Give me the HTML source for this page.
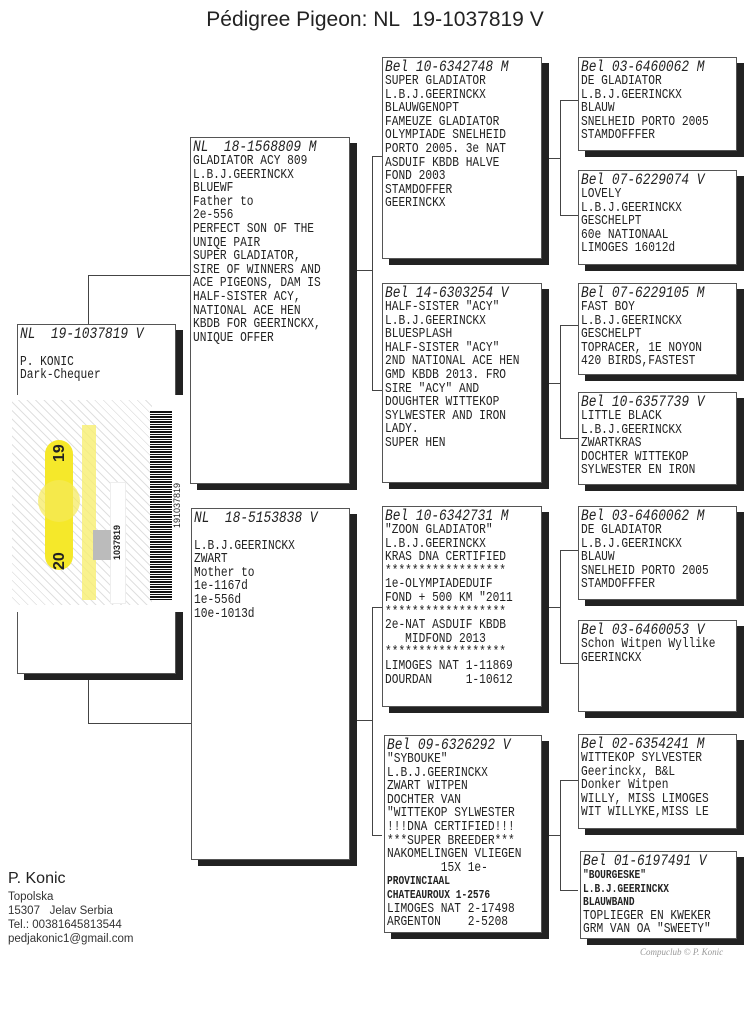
<!DOCTYPE html>
<html><head><meta charset="utf-8"><style>
body{margin:0;width:750px;height:1027px;background:#fff;position:relative;overflow:hidden;font-family:"Liberation Mono",monospace;color:#222}
.b{position:absolute;border:1px solid #555;background:#fff;box-shadow:7px 6px 0 #222;box-sizing:border-box;padding:2px 0 0 2px;overflow:hidden}
.t{display:block;white-space:pre;font-size:13.5px;line-height:13.6px;letter-spacing:0;transform:scaleX(0.83);transform-origin:0 0;width:200px}
.h{font-style:italic;font-size:15.5px;line-height:15px;display:block}
.s{font-size:11.5px;line-height:11px;font-weight:bold}
.l{position:absolute;background:#444}
.v{width:1px}.hz{height:1px}
</style></head><body>
<div style="position:absolute;left:0;width:750px;top:8px;text-align:center;font-family:'Liberation Sans',sans-serif;font-size:21px;color:#222">Pédigree Pigeon: NL&nbsp;&nbsp;19-1037819 V</div>

<div class="l v" style="left:88px;top:275px;height:50px"></div>
<div class="l hz" style="left:88px;top:275px;width:102px"></div>
<div class="l v" style="left:88px;top:675px;height:48px"></div>
<div class="l hz" style="left:88px;top:723px;width:104px"></div>
<div class="l hz" style="left:350px;top:270px;width:22px"></div>
<div class="l v" style="left:372px;top:156px;height:234px"></div>
<div class="l hz" style="left:372px;top:156px;width:10px"></div>
<div class="l hz" style="left:372px;top:390px;width:10px"></div>
<div class="l hz" style="left:350px;top:720px;width:22px"></div>
<div class="l v" style="left:372px;top:607px;height:228px"></div>
<div class="l hz" style="left:372px;top:607px;width:10px"></div>
<div class="l hz" style="left:372px;top:835px;width:10px"></div>
<div class="l hz" style="left:542px;top:158px;width:18px"></div>
<div class="l v" style="left:560px;top:100px;height:115px"></div>
<div class="l hz" style="left:560px;top:100px;width:18px"></div>
<div class="l hz" style="left:560px;top:215px;width:18px"></div>
<div class="l hz" style="left:542px;top:383px;width:18px"></div>
<div class="l v" style="left:560px;top:325px;height:113px"></div>
<div class="l hz" style="left:560px;top:325px;width:18px"></div>
<div class="l hz" style="left:560px;top:438px;width:18px"></div>
<div class="l hz" style="left:542px;top:607px;width:18px"></div>
<div class="l v" style="left:560px;top:550px;height:113px"></div>
<div class="l hz" style="left:560px;top:550px;width:18px"></div>
<div class="l hz" style="left:560px;top:663px;width:18px"></div>
<div class="l hz" style="left:542px;top:835px;width:18px"></div>
<div class="l v" style="left:560px;top:780px;height:110px"></div>
<div class="l hz" style="left:560px;top:780px;width:18px"></div>
<div class="l hz" style="left:560px;top:890px;width:18px"></div>

<div class="b" style="left:17px;top:324px;width:159px;height:350px"><span class="t"><span class="h">NL  19-1037819 V</span>
P. KONIC
Dark-Chequer</span></div>

<div class="b" style="left:190px;top:137px;width:160px;height:347px"><span class="t"><span class="h">NL  18-1568809 M</span>GLADIATOR ACY 809
L.B.J.GEERINCKX
BLUEWF
Father to
2e-556
PERFECT SON OF THE
UNIQE PAIR
SUPER GLADIATOR,
SIRE OF WINNERS AND
ACE PIGEONS, DAM IS
HALF-SISTER ACY,
NATIONAL ACE HEN
KBDB FOR GEERINCKX,
UNIQUE OFFER</span></div>
<div class="b" style="left:191px;top:508px;width:159px;height:352px"><span class="t"><span class="h">NL  18-5153838 V</span>
L.B.J.GEERINCKX
ZWART
Mother to
1e-1167d
1e-556d
10e-1013d</span></div>

<div class="b" style="left:382px;top:57px;width:160px;height:202px"><span class="t"><span class="h">Bel 10-6342748 M</span>SUPER GLADIATOR
L.B.J.GEERINCKX
BLAUWGENOPT
FAMEUZE GLADIATOR
OLYMPIADE SNELHEID
PORTO 2005. 3e NAT
ASDUIF KBDB HALVE
FOND 2003
STAMDOFFER
GEERINCKX</span></div>
<div class="b" style="left:382px;top:283px;width:160px;height:200px"><span class="t"><span class="h">Bel 14-6303254 V</span>HALF-SISTER "ACY"
L.B.J.GEERINCKX
BLUESPLASH
HALF-SISTER "ACY"
2ND NATIONAL ACE HEN
GMD KBDB 2013. FRO
SIRE "ACY" AND
DOUGHTER WITTEKOP
SYLWESTER AND IRON
LADY.
SUPER HEN</span></div>
<div class="b" style="left:382px;top:506px;width:160px;height:201px"><span class="t"><span class="h">Bel 10-6342731 M</span>"ZOON GLADIATOR"
L.B.J.GEERINCKX
KRAS DNA CERTIFIED
******************
1e-OLYMPIADEDUIF
FOND + 500 KM "2011
******************
2e-NAT ASDUIF KBDB
   MIDFOND 2013
******************
LIMOGES NAT 1-11869
DOURDAN     1-10612</span></div>
<div class="b" style="left:384px;top:735px;width:158px;height:198px"><span class="t"><span class="h">Bel 09-6326292 V</span>"SYBOUKE"
L.B.J.GEERINCKX
ZWART WITPEN
DOCHTER VAN
"WITTEKOP SYLWESTER
!!!DNA CERTIFIED!!!
***SUPER BREEDER***
NAKOMELINGEN VLIEGEN
        15X 1e-
<span class="s">PROVINCIAAL
CHATEAUROUX 1-2576</span>
LIMOGES NAT 2-17498
ARGENTON    2-5208</span></div>

<div class="b" style="left:578px;top:57px;width:159px;height:94px"><span class="t"><span class="h">Bel 03-6460062 M</span>DE GLADIATOR
L.B.J.GEERINCKX
BLAUW
SNELHEID PORTO 2005
STAMDOFFFER</span></div>
<div class="b" style="left:578px;top:170px;width:159px;height:95px"><span class="t"><span class="h">Bel 07-6229074 V</span>LOVELY
L.B.J.GEERINCKX
GESCHELPT
60e NATIONAAL
LIMOGES 16012d</span></div>
<div class="b" style="left:578px;top:283px;width:159px;height:92px"><span class="t"><span class="h">Bel 07-6229105 M</span>FAST BOY
L.B.J.GEERINCKX
GESCHELPT
TOPRACER, 1E NOYON
420 BIRDS,FASTEST</span></div>
<div class="b" style="left:578px;top:392px;width:159px;height:93px"><span class="t"><span class="h">Bel 10-6357739 V</span>LITTLE BLACK
L.B.J.GEERINCKX
ZWARTKRAS
DOCHTER WITTEKOP
SYLWESTER EN IRON</span></div>
<div class="b" style="left:578px;top:506px;width:159px;height:94px"><span class="t"><span class="h">Bel 03-6460062 M</span>DE GLADIATOR
L.B.J.GEERINCKX
BLAUW
SNELHEID PORTO 2005
STAMDOFFFER</span></div>
<div class="b" style="left:578px;top:620px;width:159px;height:92px"><span class="t"><span class="h">Bel 03-6460053 V</span>Schon Witpen Wyllike
GEERINCKX</span></div>
<div class="b" style="left:578px;top:734px;width:159px;height:95px"><span class="t"><span class="h">Bel 02-6354241 M</span>WITTEKOP SYLVESTER
Geerinckx, B&amp;L
Donker Witpen
WILLY, MISS LIMOGES
WIT WILLYKE,MISS LE</span></div>
<div class="b" style="left:580px;top:851px;width:157px;height:88px"><span class="t"><span class="h">Bel 01-6197491 V</span><span class="s">"BOURGESKE"
L.B.J.GEERINCKX
BLAUWBAND</span>
TOPLIEGER EN KWEKER
GRM VAN OA "SWEETY"</span></div>

<div style="position:absolute;left:2px;top:395px;width:184px;height:217px;background:#fff"></div>
<div style="position:absolute;left:12px;top:400px;width:140px;height:205px;background:repeating-linear-gradient(45deg,#fff 0 5px,#ddd 5px 6px),#f4f4f4;opacity:.9"></div>
<div style="position:absolute;left:45px;top:440px;width:28px;height:130px;border-radius:14px;background:#f5e82a"></div>
<div style="position:absolute;left:38px;top:480px;width:42px;height:42px;border-radius:50%;background:#f5ea5a;opacity:.7"></div>
<div style="position:absolute;left:82px;top:425px;width:14px;height:175px;background:#f7ef70;opacity:.8"></div>
<div style="position:absolute;left:110px;top:482px;width:14px;height:120px;background:#fff;border:1px solid #eee"></div>
<div style="position:absolute;left:93px;top:530px;width:18px;height:30px;background:#bbb"></div>
<div style="position:absolute;left:112px;top:485px;width:12px;height:115px;font:bold 9px 'Liberation Sans',sans-serif;color:#222;writing-mode:vertical-rl;transform:rotate(180deg);text-align:center">1037819</div>
<div style="position:absolute;left:150px;top:410px;width:22px;height:190px;background:repeating-linear-gradient(0deg,#111 0 1px,#fff 1px 2px,#111 2px 4px,#fff 4px 5px)"></div>
<div style="position:absolute;left:172px;top:440px;width:12px;height:130px;font:9px 'Liberation Sans',sans-serif;writing-mode:vertical-rl;transform:rotate(180deg);text-align:center">191037819</div>
<div style="position:absolute;left:46px;top:444px;width:28px;height:126px;font:bold 16px 'Liberation Sans',sans-serif;writing-mode:vertical-rl;transform:rotate(180deg);display:flex;justify-content:space-between;align-items:center">20<span>19</span></div>

<div style="position:absolute;left:8px;top:870px;font-family:'Liberation Sans',sans-serif;font-size:16px;color:#222">P. Konic</div>
<div style="position:absolute;left:8px;top:890px;font-family:'Liberation Sans',sans-serif;font-size:11.5px;line-height:14px;color:#333">Topolska<br>15307&nbsp;&nbsp; Jelav Serbia<br>Tel.: 00381645813544<br>pedjakonic1@gmail.com</div>
<div style="position:absolute;left:640px;top:947px;font-family:'Liberation Serif',serif;font-style:italic;font-size:9px;color:#999">Compuclub © P. Konic</div>
</body></html>
